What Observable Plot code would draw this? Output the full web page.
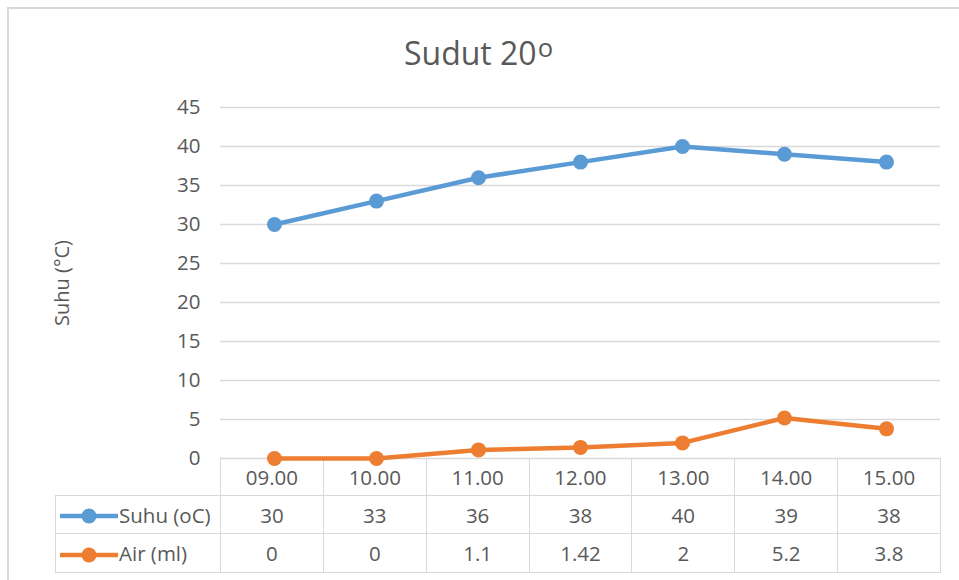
<!DOCTYPE html>
<html>
<head>
<meta charset="utf-8">
<script src="https://cdn.jsdelivr.net/npm/d3@7"></script>
<script src="https://cdn.jsdelivr.net/npm/@observablehq/plot@0.6"></script>
<style>
  html, body { margin: 0; padding: 0; background: #fff; overflow: hidden; }
  #wrap { position: relative; width: 959px; height: 580px; overflow: hidden; font-family: "Open Sans", "Noto Sans", sans-serif; color: #595959; }
  #frame { position: absolute; left: 7px; top: 7px; width: 1000px; height: 700px; border-top: 2px solid #d9d9d9; border-left: 2px solid #d9d9d9; }
  #title { position: absolute; left: 0; width: 957px; top: 37px; text-align: center; font-size: 32px; line-height: 32px; color: #595959; }
  #title .sup { position: relative; top: -0.3em; font-size: 0.8em; margin-left: 1px; }
  #tbl { position: absolute; left: 55px; top: 458px; border-collapse: collapse; table-layout: fixed; font-size: 20.5px; color: #595959; }
  #tbl td { border: 1px solid #d9d9d9; text-align: center; padding: 0; white-space: nowrap; }
  #tbl td.corner { border-top: 0; border-left: 0; }
  #tbl td.lab { text-align: left; padding-left: 4px; }
  #tbl td.lab svg { vertical-align: middle; margin-right: 1px; position: relative; top: -1px; }
  #chart { position: absolute; left: 0; top: 0; }
</style>
</head>
<body>
<div id="wrap">
  <div id="frame"></div>
  <table id="tbl"></table>
  <div id="chart"></div>
  <div id="title">Sudut 20<span class="sup">o</span></div>
</div>
<script>
const times = ["09.00", "10.00", "11.00", "12.00", "13.00", "14.00", "15.00"];
const suhu = [30, 33, 36, 38, 40, 39, 38];
const air = [0, 0, 1.1, 1.42, 2, 5.2, 3.8];
const seriesNames = ["Suhu (oC)", "Air (ml)"];
const seriesColors = ["#5b9bd5", "#ed7d31"];
const yTicks = [0, 5, 10, 15, 20, 25, 30, 35, 40, 45];
const yLabel = "Suhu (°C)";

const seriesValues = [suhu, air];
const rows = [];
seriesValues.forEach((vals, s) => {
  vals.forEach((v, i) => rows.push({series: seriesNames[s], time: times[i], value: v}));
});

const W = 959, H = 580;
const plot = Plot.plot({
  width: W,
  height: H,
  marginLeft: 220,
  marginRight: 19,
  marginTop: 107,
  marginBottom: 122,
  style: {background: "transparent", fontFamily: "'Open Sans', 'Noto Sans', sans-serif", color: "#595959", overflow: "visible"},
  x: {type: "point", domain: times, padding: 0.5, axis: null},
  y: {domain: [0, 45], ticks: yTicks},
  color: {domain: seriesNames, range: seriesColors},
  marks: [
    Plot.gridY(yTicks, {stroke: "#d9d9d9", strokeOpacity: 1, strokeWidth: 1.3}),
    Plot.axisY(yTicks, {tickSize: 0, tickPadding: 20, fontSize: 20.5, fill: "#595959", label: null}),
    Plot.text([yLabel], {frameAnchor: "left", textAnchor: "middle", rotate: -90, dx: -158, text: d => d, fontSize: 20, fill: "#595959"}),
    Plot.line(rows, {x: "time", y: "value", z: "series", stroke: "series", strokeWidth: 4.5, strokeLinecap: "round", strokeLinejoin: "round"}),
    Plot.dot(rows, {x: "time", y: "value", fill: "series", r: 7.5, stroke: null})
  ]
});
document.getElementById("chart").appendChild(plot);

// data table below the plot, aligned to the x scale bands
const xs = plot.scale("x");
const step = (xs.range[1] - xs.range[0]) / times.length;
const tbl = document.getElementById("tbl");
const left = 55;
const colgroup = document.createElement("colgroup");
const c0 = document.createElement("col"); c0.style.width = (xs.range[0] - left) + "px"; colgroup.appendChild(c0);
times.forEach(() => { const c = document.createElement("col"); c.style.width = step + "px"; colgroup.appendChild(c); });
tbl.appendChild(colgroup);
tbl.style.width = (xs.range[1] - left) + "px";

const heights = [37, 38, 39];
const hr = document.createElement("tr"); hr.style.height = heights[0] + "px";
const corner = document.createElement("td"); corner.className = "corner"; hr.appendChild(corner);
times.forEach(t => { const td = document.createElement("td"); td.textContent = t; hr.appendChild(td); });
tbl.appendChild(hr);

seriesValues.forEach((vals, s) => {
  const tr = document.createElement("tr"); tr.style.height = heights[s + 1] + "px";
  const lab = document.createElement("td"); lab.className = "lab";
  const key = d3.create("svg").attr("width", 58).attr("height", 16);
  key.append("line").attr("x1", 1).attr("x2", 57).attr("y1", 8).attr("y2", 8).attr("stroke", seriesColors[s]).attr("stroke-width", 4.5).attr("stroke-linecap", "round");
  key.append("circle").attr("cx", 29).attr("cy", 8).attr("r", 7.5).attr("fill", seriesColors[s]);
  lab.appendChild(key.node());
  lab.appendChild(document.createTextNode(seriesNames[s]));
  tr.appendChild(lab);
  vals.forEach(v => { const td = document.createElement("td"); td.textContent = String(v); tr.appendChild(td); });
  tbl.appendChild(tr);
});
</script>
</body>
</html>
